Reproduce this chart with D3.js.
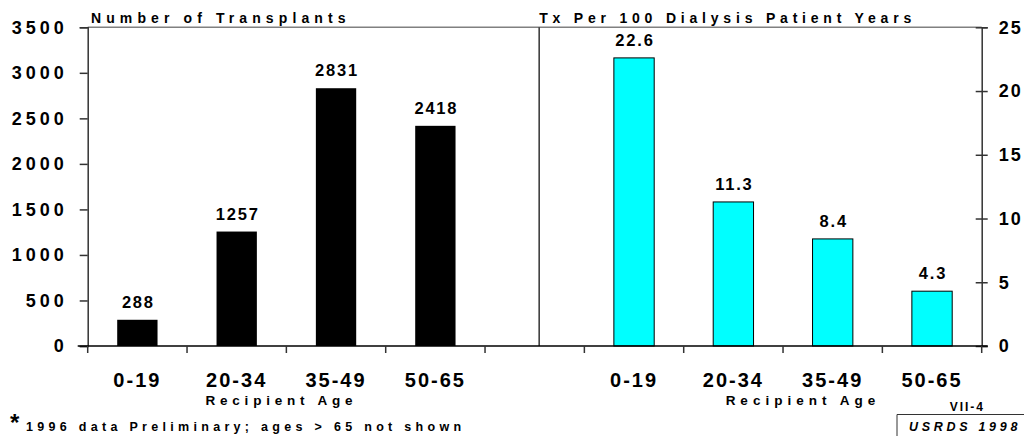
<!DOCTYPE html>
<html>
<head>
<meta charset="utf-8">
<script src="https://cdn.jsdelivr.net/npm/d3@7"></script>
<style>
  html, body { margin: 0; padding: 0; background: #fff; }
  svg { display: block; }
  svg text { font-family: "Liberation Sans", Arial, sans-serif; font-weight: bold; fill: #000; }
</style>
</head>
<body>
<div id="chart"></div>
<script>
const ageGroups   = ["0-19", "20-34", "35-49", "50-65"];
const transplants = [288, 1257, 2831, 2418];
const txRates     = [22.6, 11.3, 8.4, 4.3];
const leftTicks   = [0, 500, 1000, 1500, 2000, 2500, 3000, 3500];
const rightTicks  = [0, 5, 10, 15, 20, 25];

const W = 1024, H = 436;
const plot = { left: 87.7, right: 981.7, top: 27.3, bottom: 346 };

// 9 slots: four left groups, a gap, four right groups
const slots = ageGroups.map(a => "L" + a).concat(["gap"], ageGroups.map(a => "R" + a));

const svg = d3.select("#chart").append("svg")
  .attr("width", W)
  .attr("height", H);

const x = d3.scaleBand()
  .domain(slots)
  .range([plot.left, plot.right])
  .paddingInner(0.594)
  .paddingOuter(0.297);

const step = (plot.right - plot.left) / slots.length;
const slotStart = s => plot.left + slots.indexOf(s) * step;
const slotMid = s => x(s) + x.bandwidth() / 2;

const yL = d3.scaleLinear().domain([0, 3500]).range([plot.bottom, plot.top]);
const yR = d3.scaleLinear().domain([0, 25]).range([plot.bottom, plot.top]);

// frame
svg.append("line")
  .attr("x1", plot.left).attr("x2", plot.right)
  .attr("y1", plot.top).attr("y2", plot.top)
  .attr("stroke", "#808080").attr("stroke-width", 1.5);

const divX = slotStart("gap") + step * 0.545;
svg.append("line")
  .attr("x1", divX).attr("x2", divX)
  .attr("y1", plot.top).attr("y2", plot.bottom)
  .attr("stroke", "#333").attr("stroke-width", 1.5);

// bars
const left = transplants.map((v, i) => ({ slot: "L" + ageGroups[i], v }));
const right = txRates.map((v, i) => ({ slot: "R" + ageGroups[i], v }));

svg.selectAll(".barL")
  .data(left)
  .join("rect")
    .attr("class", "barL")
    .attr("x", d => x(d.slot))
    .attr("y", d => yL(d.v))
    .attr("width", x.bandwidth())
    .attr("height", d => plot.bottom - yL(d.v))
    .attr("fill", "#000");

svg.selectAll(".barR")
  .data(right)
  .join("rect")
    .attr("class", "barR")
    .attr("x", d => x(d.slot))
    .attr("y", d => yR(d.v))
    .attr("width", x.bandwidth())
    .attr("height", d => plot.bottom - yR(d.v))
    .attr("fill", "#00ffff")
    .attr("stroke", "#000")
    .attr("stroke-width", 1);

// value labels
svg.selectAll(".valL")
  .data(left)
  .join("text")
    .attr("x", d => slotMid(d.slot) + 1)
    .attr("y", d => yL(d.v) - 12)
    .attr("text-anchor", "middle")
    .style("font-size", "16.5px")
    .style("letter-spacing", "1.8px")
    .text(d => d.v);

svg.selectAll(".valR")
  .data(right)
  .join("text")
    .attr("x", d => slotMid(d.slot) + 1)
    .attr("y", d => yR(d.v) - 12)
    .attr("text-anchor", "middle")
    .style("font-size", "16.5px")
    .style("letter-spacing", "1.8px")
    .text(d => d.v.toFixed(1));

// left y axis
const axL = svg.append("g")
  .attr("transform", `translate(${plot.left},0)`)
  .call(d3.axisLeft(yL).tickValues(leftTicks).tickFormat(d3.format("d")).tickSize(8).tickPadding(12));
axL.select(".domain").attr("stroke", "#333").attr("stroke-width", 1.5);
axL.selectAll(".tick line").attr("stroke", "#333").attr("stroke-width", 1.5);
axL.selectAll(".tick text")
  .style("font-size", "18px")
  .style("letter-spacing", "4px");

// right y axis
const axR = svg.append("g")
  .attr("transform", `translate(${plot.right},0)`)
  .call(d3.axisRight(yR).tickValues(rightTicks).tickSize(6).tickPadding(11));
axR.select(".domain").attr("stroke", "#333").attr("stroke-width", 1.5);
axR.selectAll(".tick line").attr("x1", -6).attr("stroke", "#333").attr("stroke-width", 1.5);
axR.selectAll(".tick text")
  .style("font-size", "18px")
  .style("letter-spacing", "2px");

// bottom axis: baseline with ticks at slot boundaries
svg.append("line")
  .attr("x1", plot.left - 10).attr("x2", plot.right + 6)
  .attr("y1", plot.bottom).attr("y2", plot.bottom)
  .attr("stroke", "#000").attr("stroke-width", 1.5);

svg.selectAll(".xtick")
  .data(d3.range(slots.length + 1))
  .join("line")
    .attr("x1", i => plot.left + i * step)
    .attr("x2", i => plot.left + i * step)
    .attr("y1", plot.bottom)
    .attr("y2", plot.bottom + 7)
    .attr("stroke", "#333").attr("stroke-width", 1.5);

svg.selectAll(".xlab")
  .data(slots.filter(s => s !== "gap"))
  .join("text")
    .attr("x", s => slotMid(s))
    .attr("y", 387)
    .attr("text-anchor", "middle")
    .style("font-size", "20px")
    .style("letter-spacing", "2px")
    .text(s => s.slice(1));

// axis titles
svg.append("text")
  .attr("x", slotStart("L20-34") + step * 0.95)
  .attr("y", 405)
  .attr("text-anchor", "middle")
  .style("font-size", "13.5px")
  .style("letter-spacing", "4.8px")
  .text("Recipient Age");

svg.append("text")
  .attr("x", slotStart("R35-49") + step * 0.2)
  .attr("y", 405)
  .attr("text-anchor", "middle")
  .style("font-size", "13.5px")
  .style("letter-spacing", "5px")
  .text("Recipient Age");

svg.append("text")
  .attr("x", 91)
  .attr("y", 23)
  .style("font-size", "14px")
  .style("letter-spacing", "5.1px")
  .text("Number of Transplants");

svg.append("text")
  .attr("x", divX)
  .attr("y", 23)
  .style("font-size", "14px")
  .style("letter-spacing", "4.8px")
  .text("Tx Per 100 Dialysis Patient Years");

// footnote
svg.append("text")
  .attr("x", 10)
  .attr("y", 431)
  .style("font-size", "24px")
  .text("*");

svg.append("text")
  .attr("x", 26)
  .attr("y", 431)
  .style("font-size", "12.5px")
  .style("letter-spacing", "4.3px")
  .text("1996 data Preliminary; ages > 65 not shown");

// source box
svg.append("text")
  .attr("x", 985)
  .attr("y", 411)
  .attr("text-anchor", "end")
  .style("font-size", "12px")
  .style("letter-spacing", "2px")
  .text("VII-4");

svg.append("path")
  .attr("d", `M${W},414.5 H897 V${H}`)
  .attr("fill", "none")
  .attr("stroke", "#333")
  .attr("stroke-width", 1);

svg.append("text")
  .attr("x", 909)
  .attr("y", 431)
  .style("font-size", "12.5px")
  .style("font-style", "italic")
  .style("letter-spacing", "3.7px")
  .text("USRDS 1998");
</script>
</body>
</html>
